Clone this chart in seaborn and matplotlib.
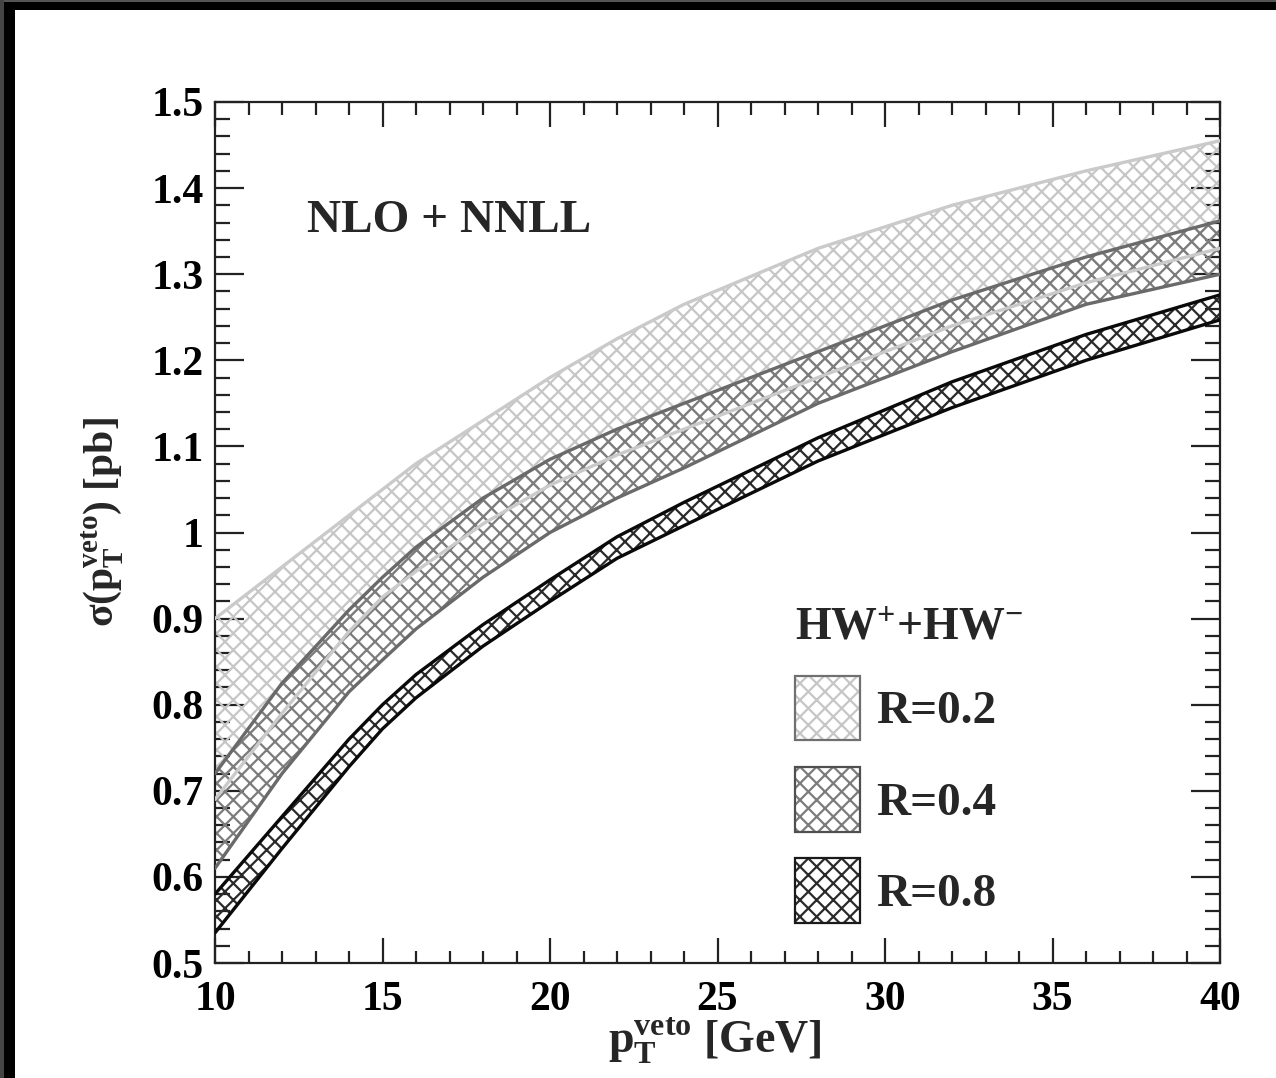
import numpy as np
import pandas as pd
import matplotlib
matplotlib.use("Agg")
import matplotlib.pyplot as plt
from matplotlib.patches import Patch, Rectangle
from matplotlib.legend_handler import HandlerTuple
from matplotlib.ticker import MultipleLocator, FormatStrFormatter
import seaborn as sns

# Jet-veto cross section bands, HW+ + HW-, NLO+NNLL
pt_veto = [10, 12, 14, 15, 16, 18, 20, 22, 24, 28, 32, 36, 40]

r02_upper = [0.90, 0.96, 1.02, 1.05, 1.08, 1.13, 1.18, 1.225, 1.265, 1.33, 1.38, 1.42, 1.455]
r02_lower = [0.69, 0.79, 0.885, 0.925, 0.955, 1.01, 1.055, 1.09, 1.12, 1.18, 1.24, 1.29, 1.33]

r04_upper = [0.72, 0.825, 0.91, 0.948, 0.983, 1.04, 1.085, 1.12, 1.15, 1.21, 1.27, 1.32, 1.362]
r04_lower = [0.61, 0.72, 0.815, 0.852, 0.888, 0.948, 1.0, 1.04, 1.075, 1.15, 1.21, 1.265, 1.30]

r08_upper = [0.58, 0.67, 0.76, 0.80, 0.835, 0.893, 0.945, 0.995, 1.035, 1.11, 1.175, 1.23, 1.276]
r08_lower = [0.535, 0.633, 0.728, 0.772, 0.808, 0.868, 0.92, 0.97, 1.008, 1.083, 1.145, 1.20, 1.247]

radius_labels = ["R=0.2", "R=0.4", "R=0.8"]

sns.set_theme(style="ticks")
plt.rcParams.update({
    "font.family": ["Liberation Serif", "DejaVu Serif"],
    "font.weight": "bold",
    "mathtext.fontset": "custom",
    "mathtext.rm": "Liberation Serif:bold",
    "mathtext.it": "Liberation Serif:bold",
    "mathtext.bf": "Liberation Serif:bold",
    "hatch.linewidth": 1.6,
    "axes.linewidth": 1.6,
    "axes.edgecolor": "#222222",
})

n = len(pt_veto)
bands = pd.DataFrame({
    "pt": pt_veto * 3,
    "upper": r02_upper + r04_upper + r08_upper,
    "lower": r02_lower + r04_lower + r08_lower,
    "R": [radius_labels[0]] * n + [radius_labels[1]] * n + [radius_labels[2]] * n,
})

hatch_colors = {"R=0.2": "#c6c6c6", "R=0.4": "#7c7c7c", "R=0.8": "#2a2a2a"}
line_colors = {"R=0.2": "#cacaca", "R=0.4": "#6a6a6a", "R=0.8": "#0a0a0a"}
box_colors = {"R=0.2": "#707070", "R=0.4": "#505050", "R=0.8": "#1a1a1a"}

W, H = 1276, 1078
fig = plt.figure(figsize=(W / 100, H / 100), dpi=100)
fig.patch.set_facecolor("white")
ax = fig.add_axes([215 / W, 1 - 963 / H, (1220 - 215) / W, (963 - 102) / H])

for r in radius_labels:
    d = bands[bands["R"] == r]
    ax.fill_between(d["pt"], d["lower"], d["upper"], facecolor="none",
                    edgecolor=hatch_colors[r], hatch="xx", linewidth=0, zorder=2)
    sns.lineplot(x=d["pt"], y=d["upper"], ax=ax, color=line_colors[r], lw=2.4,
                 zorder=3, legend=False)
    sns.lineplot(x=d["pt"], y=d["lower"], ax=ax, color=line_colors[r], lw=2.4,
                 zorder=3, legend=False)

ax.set_xlim(10, 40)
ax.set_ylim(0.5, 1.5)
ax.xaxis.set_major_locator(MultipleLocator(5))
ax.xaxis.set_minor_locator(MultipleLocator(1))
ax.yaxis.set_major_locator(MultipleLocator(0.1))
ax.yaxis.set_minor_locator(MultipleLocator(0.02))
ax.yaxis.set_major_formatter(FormatStrFormatter("%g"))
ax.xaxis.set_major_formatter(FormatStrFormatter("%g"))

ax.tick_params(axis="both", which="both", direction="in", top=True, right=True,
               colors="#222222", labelsize=30, width=1.6)
ax.tick_params(axis="y", which="major", length=21, pad=8)
ax.tick_params(axis="y", which="minor", length=10.5)
ax.tick_params(axis="x", which="major", length=18, pad=13)
ax.tick_params(axis="x", which="minor", length=9)
for lab in ax.get_xticklabels() + ax.get_yticklabels():
    lab.set_fontweight("bold")
    lab.set_color("black")

ax.set_xlabel(r"p$_{T}^{veto}$ [GeV]", fontsize=33, fontweight="bold")
ax.set_ylabel(r"σ(p$_{T}^{veto}$) [pb]", fontsize=30, fontweight="bold")
ax.xaxis.set_label_coords(0.4975, -0.061)
ax.yaxis.set_label_coords(-0.090, 0.512)

ax.text(0.092, 0.862, "NLO + NNLL", transform=ax.transAxes, fontsize=34,
        fontweight="bold", va="center", ha="left")

handles = []
for r in radius_labels:
    handles.append((Patch(facecolor="white", edgecolor=hatch_colors[r], hatch="xx", lw=0),
                    Patch(facecolor="none", edgecolor=box_colors[r], lw=1.6)))
leg = ax.legend(handles, radius_labels, handler_map={tuple: HandlerTuple(ndivide=1, pad=0)},
                title=r"HW$^{+}$+HW$^{-}$", loc="upper left",
                bbox_to_anchor=(795 / W, 1 - 607 / H), bbox_transform=fig.transFigure,
                frameon=False, borderpad=0, borderaxespad=0, fontsize=34,
                title_fontsize=33, handlelength=1.38, handleheight=1.72,
                handletextpad=0.33, labelspacing=0.57, alignment="left")
for t in leg.get_texts():
    t.set_fontweight("bold")
leg.get_title().set_fontweight("bold")

# dark frame along top and left edges
fig.add_artist(Rectangle((0, 1 - 10 / H), 1, 10 / H, transform=fig.transFigure,
                         facecolor="black", edgecolor="none", zorder=10))
fig.add_artist(Rectangle((0, 1 - 2 / H), 1, 2 / H, transform=fig.transFigure,
                         facecolor="#555555", edgecolor="none", zorder=11))
fig.add_artist(Rectangle((0, 0), 15 / W, 1, transform=fig.transFigure,
                         facecolor="black", edgecolor="none", zorder=10))
fig.add_artist(Rectangle((0, 0), 4 / W, 1, transform=fig.transFigure,
                         facecolor="#444444", edgecolor="none", zorder=11))

fig.savefig("out.png", dpi=100)
